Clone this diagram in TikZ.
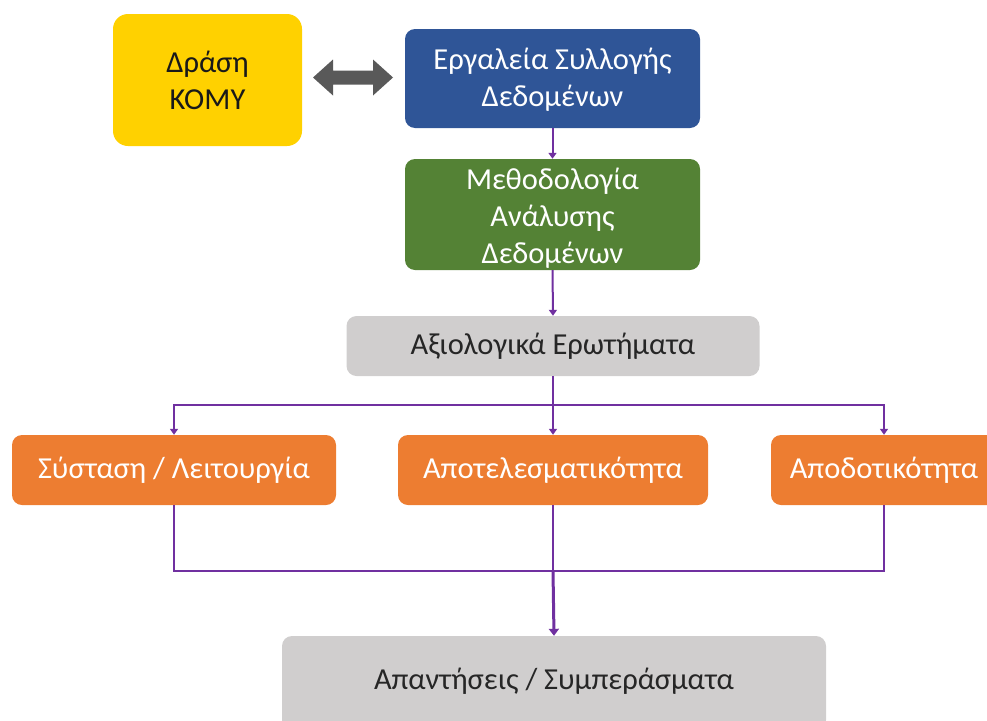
\documentclass[tikz,border=0pt]{standalone}
\usepackage{fontspec}
\setmainfont{Carlito}
\usetikzlibrary{arrows.meta}
\definecolor{kyellow}{HTML}{FFD100}
\definecolor{kblue}{HTML}{2F5597}
\definecolor{kgreen}{HTML}{548235}
\definecolor{kgray}{HTML}{D0CECE}
\definecolor{korange}{HTML}{ED7D31}
\definecolor{kpurple}{HTML}{7030A0}
\definecolor{karrow}{HTML}{595959}
\newcommand{\shiftdown}[2]{\raisebox{-#1}[\height][\depth]{#2}}
\tikzset{
  box/.style={rounded corners=10pt, inner sep=0pt, align=center, font=\fontsize{30.5}{37}\selectfont},
  whitebox/.style={box, text=white},
  conn/.style={draw=kpurple, line width=2pt, -{Triangle[width=8pt,length=6pt]}},
  line/.style={draw=kpurple, line width=2pt},
}
\begin{document}
\begin{tikzpicture}[x=1pt,y=-1pt]
\useasboundingbox (0,0) rectangle (987,720);
\clip (0,0) rectangle (987,720);
% boxes
\node[box, fill=kyellow, rounded corners=15pt, minimum width=189pt, minimum height=132pt, text=black!90] (komy) at (207.5,80) {Δράση\\ΚΟΜΥ};
\node[whitebox, fill=kblue, minimum width=295pt, minimum height=99pt] (tools) at (552.5,78.5) {\shiftdown{2pt}{\begin{tabular}{@{}c@{}}Εργαλεία Συλλογής\\Δεδομένων\end{tabular}}};
\node[whitebox, fill=kgreen, minimum width=295pt, minimum height=109pt] (method) at (552.5,214.5) {\shiftdown{5pt}{\begin{tabular}{@{}c@{}}Μεθοδολογία\\Ανάλυσης\\Δεδομένων\end{tabular}}};
\node[box, fill=kgray, minimum width=413pt, minimum height=60pt, text=black!85] (quest) at (553,346) {Αξιολογικά Ερωτήματα};
\node[whitebox, fill=korange, minimum width=324pt, minimum height=70pt] (sys) at (174,470) {Σύσταση / Λειτουργία};
\node[whitebox, fill=korange, minimum width=310pt, minimum height=70pt] (eff) at (553,470) {Αποτελεσματικότητα};
\node[whitebox, fill=korange, minimum width=226pt, minimum height=70pt] (effi) at (884,470) {\raisebox{3pt}{Αποδοτικότητα}};
\node[box, fill=kgray, minimum width=544pt, minimum height=94pt, text=black!85] (ans) at (554,683) {\raisebox{8pt}{Απαντήσεις / Συμπεράσματα}};
% double arrow (shape between the two top boxes)
\coordinate (dl) at (313,77.5);
\coordinate (dr) at (393,77.5);
\fill[karrow] (dl) -- ++(20,-18) -- ++(0,11) -- ++(40,0) -- ++(0,-11) -- (dr)
  -- ++(-20,18) -- ++(0,-11) -- ++(-40,0) -- ++(0,11) -- cycle;
% connectors
\draw[conn] (tools.south) -- (method.north);
\draw[conn] (method.south) -- (quest.north);
\coordinate (split) at (553,405);
\draw[line] (quest.south) -- (split);
\draw[conn] (split) -| (sys.north);
\draw[conn] (split) -| (effi.north);
\draw[conn] (split) -- (eff.north);
\coordinate (join) at (553,571);
\draw[line] (sys.south) |- (join);
\draw[line] (effi.south) |- (join);
\draw[line] (eff.south) -- (join);
\draw[draw=kpurple, line width=3pt, -{Triangle[width=10pt,length=7pt]}] (join) -- (ans.north);
\end{tikzpicture}
\end{document}
